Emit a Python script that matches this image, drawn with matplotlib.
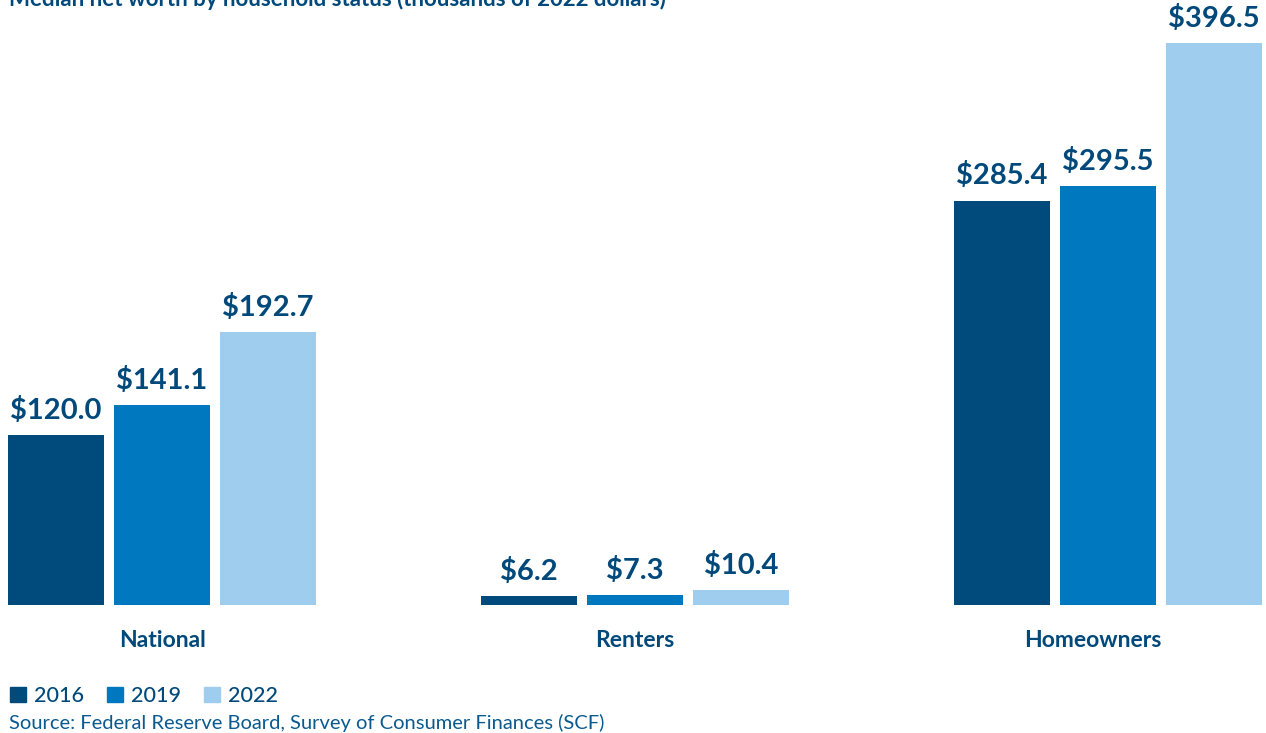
import matplotlib
matplotlib.use("Agg")
import matplotlib.pyplot as plt
from matplotlib.patches import Patch
import numpy as np

categories = ["National", "Renters", "Homeowners"]
years = ["2016", "2019", "2022"]
v2016 = [120.0, 6.2, 285.4]
v2019 = [141.1, 7.3, 295.5]
v2022 = [192.7, 10.4, 396.5]
series = [v2016, v2019, v2022]
colors = ["#004a7c", "#0078c0", "#9fcdee"]
navy = "#00497a"

plt.rcParams['font.family'] = ['Lato', 'DejaVu Sans']

fig = plt.figure(figsize=(12.66, 7.33), dpi=100)
ax = fig.add_axes([0, (733 - 605) / 733, 1, 605 / 733])

x = np.arange(len(categories))
pitch = 0.224
width = 0.203
for i, (vals, c) in enumerate(zip(series, colors)):
    pos = x + (i - 1) * pitch
    bars = ax.bar(pos, vals, width=width, color=c, label=years[i])
    for b, v in zip(bars, vals):
        ax.annotate(f"${v:.1f}", (b.get_x() + b.get_width() / 2, v),
                    xytext=(0, 8), textcoords="offset points",
                    ha="center", va="bottom", fontsize=21, fontweight="bold",
                    color=navy)

ax.set_xlim(-162 / 473, (1266 - 162) / 473)
ax.set_ylim(0, 605 / 1.417)
ax.set_xticks(x + np.array([0, 0, -0.032]))
ax.set_xticklabels(categories, fontsize=16.5, fontweight="bold", color=navy)
ax.tick_params(axis="x", length=0, pad=18)
ax.set_yticks([])
for s in ax.spines.values():
    s.set_visible(False)

fig.text(0.007, (733 - 6) / 733,
         "Median net worth by household status (thousands of 2022 dollars)",
         fontsize=16, fontweight="bold", color=navy, va="baseline", ha="left")

handles = [Patch(color=c) for c in colors]
leg = fig.legend(handles, years, loc="center left",
                 bbox_to_anchor=(10 / 1266, (733 - 696) / 733), ncol=3, frameon=False,
                 fontsize=15.5, handlelength=0.75, handleheight=0.75,
                 handletextpad=0.35, columnspacing=1.08, borderaxespad=0,
                 borderpad=0.0)
for t in leg.get_texts():
    t.set_color(navy)
    t.set_fontweight("medium")

fig.text(0.007, (733 - 723) / 733,
         "Source: Federal Reserve Board, Survey of Consumer Finances (SCF)",
         fontsize=14.5, color="#0a5a8f", va="center", ha="left")

fig.savefig("out.png", dpi=100)
